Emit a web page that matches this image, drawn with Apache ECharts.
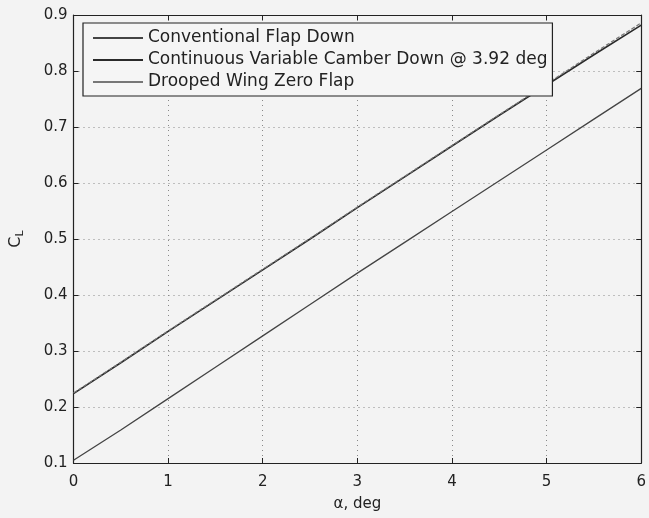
<!DOCTYPE html>
<html>
<head>
<meta charset="utf-8">
<script src="https://cdn.jsdelivr.net/npm/echarts@6/dist/echarts.min.js"></script>
<style>html,body{margin:0;padding:0;background:#f3f3f3;}#c{width:649px;height:518px;}</style>
</head>
<body>
<div id="c"></div>
<script>
const alpha = [0, 0.5, 1, 1.5, 2, 2.5, 3, 3.5, 4, 4.5, 5, 5.5, 6];
const conventionalFlapDown = [0.105, 0.159, 0.215, 0.271, 0.327, 0.383, 0.439, 0.494, 0.549, 0.604, 0.659, 0.714, 0.769];
const continuousVariableCamber = [0.224, 0.279, 0.335, 0.390, 0.445, 0.500, 0.556, 0.611, 0.666, 0.721, 0.775, 0.829, 0.882];
const droopedWingZeroFlap = [0.225, 0.280, 0.336, 0.391, 0.446, 0.501, 0.557, 0.612, 0.667, 0.722, 0.777, 0.832, 0.886];
const seriesNames = ['Conventional Flap Down', 'Continuous Variable Camber Down @ 3.92 deg', 'Drooped Wing Zero Flap'];
const xTicks = {min: 0, max: 6, interval: 1};
const yTicks = {min: 0.1, max: 0.9, interval: 0.1};

const pair = (xs, ys) => xs.map((x, i) => [x, ys[i]]);
const font = 'DejaVu Sans, sans-serif';
const chart = echarts.init(document.getElementById('c'));
const axisBase = {
  axisLine: {show: true, onZero: false, lineStyle: {color: '#222', width: 1.2}},
  axisTick: {show: true, inside: true, length: 5, lineStyle: {color: '#222'}},
};
chart.setOption({
  backgroundColor: '#f3f3f3',
  animation: false,
  grid: {left: 73, right: 7, top: 15, bottom: 55},
  legend: {
    orient: 'vertical', left: 83, top: 23,
    backgroundColor: '#f5f5f5',
    borderColor: '#222', borderWidth: 1.2,
    padding: [5, 5, 4, 10],
    itemWidth: 50, itemHeight: 2, itemGap: 2,
    textStyle: {fontFamily: font, fontSize: 17, color: '#222', lineHeight: 20},
    data: seriesNames.map(n => ({name: n, icon: 'rect'}))
  },
  xAxis: [
    Object.assign({type: 'value', min: xTicks.min, max: xTicks.max, interval: xTicks.interval,
      name: 'α, deg', nameLocation: 'middle', nameGap: 34,
      nameTextStyle: {fontFamily: font, fontSize: 15, color: '#222'},
      axisLabel: {fontFamily: font, fontSize: 15, color: '#222', margin: 12},
      splitLine: {show: true, lineStyle: {type: [1, 4], color: '#888', width: 1}}}, axisBase),
    Object.assign({type: 'value', position: 'top', min: xTicks.min, max: xTicks.max, interval: xTicks.interval,
      axisLabel: {show: false}, splitLine: {show: false}}, axisBase)
  ],
  yAxis: [
    Object.assign({type: 'value', min: yTicks.min, max: yTicks.max, interval: yTicks.interval,
      name: '{c|C}{l|L}', nameLocation: 'middle', nameGap: 48, nameRotate: 90,
      nameTextStyle: {rich: {
        c: {fontFamily: font, fontSize: 16, color: '#222'},
        l: {fontFamily: font, fontSize: 11, color: '#222', verticalAlign: 'bottom', padding: [8, 0, 0, 0]}
      }},
      axisLabel: {fontFamily: font, fontSize: 15, color: '#222', margin: 6, formatter: v => v.toFixed(1)},
      splitLine: {show: true, lineStyle: {type: [1, 4], color: '#888', width: 1}}}, axisBase),
    Object.assign({type: 'value', position: 'right', min: yTicks.min, max: yTicks.max, interval: yTicks.interval,
      axisLabel: {show: false}, splitLine: {show: false}}, axisBase)
  ],
  series: [
    {name: seriesNames[0], type: 'line', data: pair(alpha, conventionalFlapDown), showSymbol: false,
      lineStyle: {color: '#444', width: 1.3}, itemStyle: {color: '#444'}},
    {name: seriesNames[1], type: 'line', data: pair(alpha, continuousVariableCamber), showSymbol: false,
      lineStyle: {color: '#2a2a2a', width: 1.6}, itemStyle: {color: '#2a2a2a'}},
    {name: seriesNames[2], type: 'line', data: pair(alpha, droopedWingZeroFlap), showSymbol: false,
      lineStyle: {color: '#777', width: 1.2, type: [4, 2]}, itemStyle: {color: '#777'}}
  ]
});
</script>
</body>
</html>
